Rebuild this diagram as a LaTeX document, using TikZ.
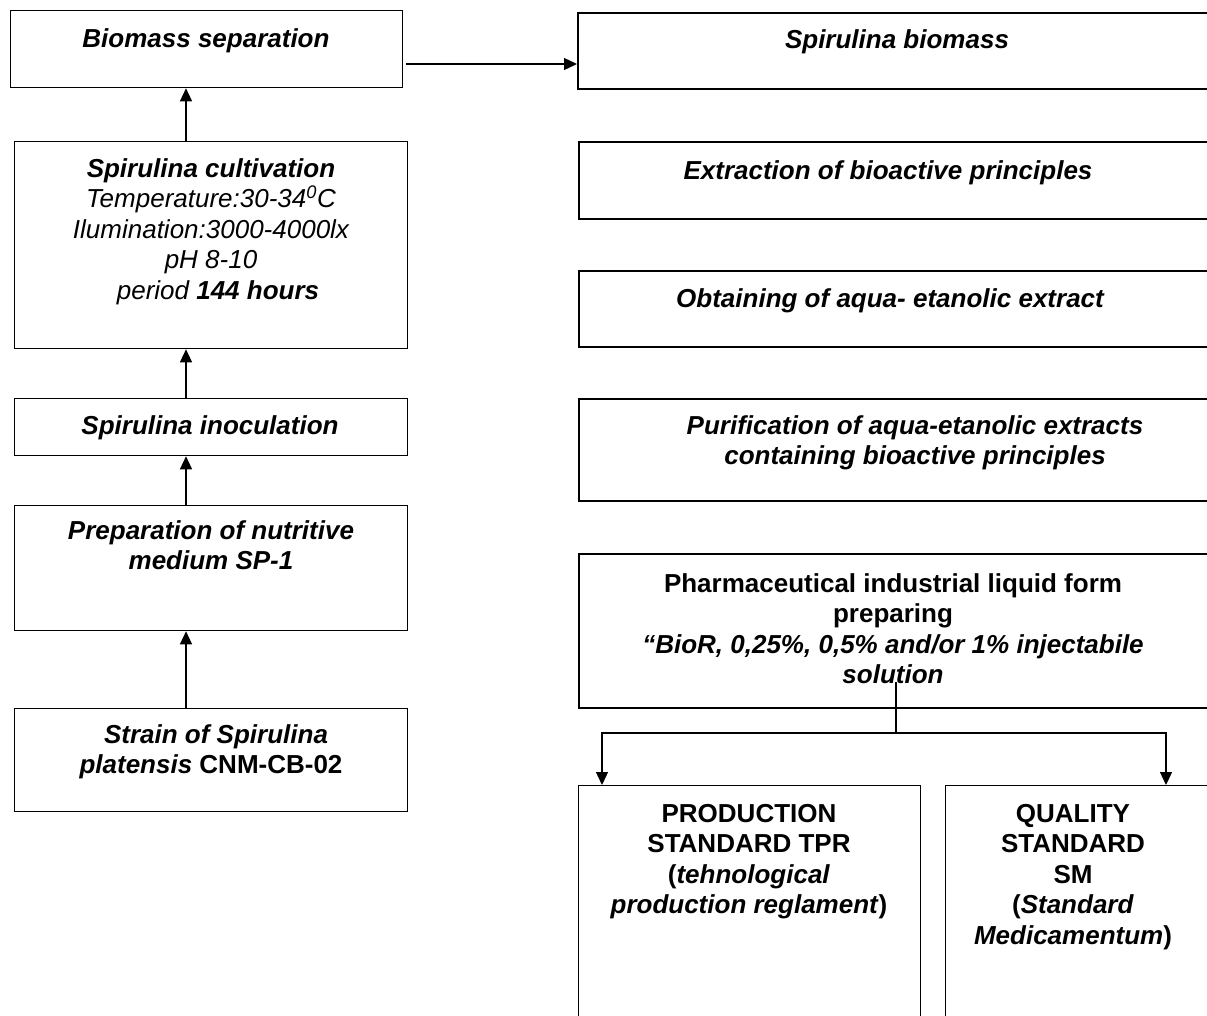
\documentclass[tikz,border=0pt]{standalone}
\usepackage{fontspec}
\setmainfont{Liberation Sans}
\usetikzlibrary{arrows.meta}
\begin{document}
\begin{tikzpicture}[x=1pt,y=-1pt,
  lbox/.style={draw, line width=1.3pt, inner sep=0pt, anchor=north west},
  rbox/.style={draw, line width=1.9pt, inner sep=0pt, anchor=north west},
  pbox/.style={draw, line width=1.5pt, inner sep=0pt, anchor=north west},
  txt/.style={inner sep=0pt, anchor=north, align=center, font=\fontsize{26}{30.5}\selectfont},
  bi/.style={txt, font=\fontsize{26}{30.5}\selectfont\bfseries\itshape},
  bu/.style={txt, font=\fontsize{26}{30.5}\selectfont\bfseries},
  it/.style={txt, font=\fontsize{26}{30.5}\selectfont\itshape},
  arr/.style={line width=1.3pt, -{Triangle[length=13pt,width=12pt]}},
  conn/.style={line width=1.3pt}]
\path[use as bounding box] (0,0) rectangle (1207,1015);
\clip (0,0) rectangle (1207,1015);

% boxes
\node[lbox, minimum width=392pt, minimum height=77pt] (bsep) at (10,10) {};
\node[rbox, minimum width=640pt, minimum height=76pt] (sbio) at (577,12) {};
\node[lbox, minimum width=393pt, minimum height=207pt] (cult) at (14,141) {};
\node[rbox, minimum width=640pt, minimum height=77pt] (ext) at (578,141) {};
\node[rbox, minimum width=640pt, minimum height=76pt] (obt) at (578,270) {};
\node[lbox, minimum width=393pt, minimum height=57pt] (inoc) at (14,398) {};
\node[rbox, minimum width=640pt, minimum height=102pt] (pur) at (578,398) {};
\node[lbox, minimum width=393pt, minimum height=125pt] (prep) at (14,505) {};
\node[pbox, minimum width=640pt, minimum height=154pt] (pharm) at (578,553) {};
\node[lbox, minimum width=393pt, minimum height=103pt] (strain) at (14,708) {};
\node[lbox, minimum width=342pt, minimum height=260pt] (prod) at (578,785) {};
\node[lbox, minimum width=280pt, minimum height=260pt] (qual) at (945,785) {};

% texts
\node[bi] (tbsep) at (206,28) {Biomass separation};
\node[bi] (tsbio) at (897,29) {Spirulina biomass};
\node[it] (tcult) at (211,158) {\textbf{Spirulina cultivation}\\
  Temperature:30-34\textsuperscript{0}C\\
  Ilumination:3000-4000lx\\
  pH 8-10\\
  \hspace*{14pt}period \textbf{144 hours}};
\node[bi] (text) at (888,160) {Extraction of bioactive principles};
\node[bi] (tobt) at (890,288) {Obtaining of aqua- etanolic extract};
\node[bi] (tinoc) at (210,415) {Spirulina inoculation};
\node[bi] (tpur) at (915,415) {Purification of aqua-etanolic extracts\\containing bioactive principles};
\node[bi] (tprep) at (211,520) {Preparation of nutritive\\medium SP-1};
\node[bu] (tpharm) at (893,573) {Pharmaceutical industrial liquid form\\preparing\\
  \textit{“BioR, 0,25\%, 0,5\% and/or 1\% injectabile}\\\textit{solution}};
\node[bu] (tstrain) at (211,724) {\hspace*{10pt}\textit{Strain of Spirulina}\\\textit{platensis} CNM-CB-02};
\node[bu] (tprod) at (749,804) {PRODUCTION\\STANDARD TPR\\(\textit{tehnological}\\\textit{production reglament})};
\node[bu] (tqual) at (1073,804) {QUALITY\\STANDARD\\SM\\(\textit{Standard}\\\textit{Medicamentum})};

% connectors
\coordinate (ax) at (186,0);
\coordinate (ay) at (0,64);
\draw[arr] ([xshift=3pt]bsep.east |- ay) -- (sbio.west |- ay);
\draw[arr] (cult.north -| ax) -- (bsep.south -| ax);
\draw[arr] (inoc.north -| ax) -- (cult.south -| ax);
\draw[arr] (prep.north -| ax) -- (inoc.south -| ax);
\draw[arr] (strain.north -| ax) -- (prep.south -| ax);

\coordinate (pc) at (896,682);
\coordinate (pj) at (896,733);
\draw[conn] (pc) -- (pj);
\draw[arr] (pj) -| ([xshift=24pt]prod.north west);
\draw[arr] (pj) -| ([xshift=221pt]qual.north west);
\end{tikzpicture}
\end{document}
